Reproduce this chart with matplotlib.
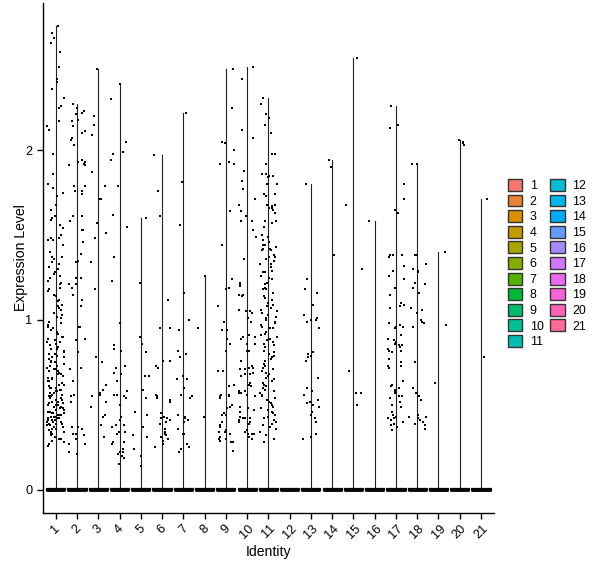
import numpy as np
import matplotlib
matplotlib.use("Agg")
import matplotlib.pyplot as plt
from matplotlib.patches import Rectangle, Patch

plt.rcParams['font.family'] = ['Liberation Sans', 'DejaVu Sans']

# ---------------- data (non-zero expression values per identity) ----------------
identities = [str(i) for i in range(1, 22)]

c1 = [2.73, 2.69, 2.66, 2.63, 2.58, 2.49, 2.42, 2.40, 2.36, 2.31, 2.26, 2.25, 2.17, 2.14, 2.12,
      1.98, 1.86, 1.80, 1.78, 1.75, 1.73, 1.68, 1.65, 1.61, 1.60, 1.59, 1.56, 1.54, 1.50, 1.48,
      1.48, 1.47, 1.47, 1.44, 1.40, 1.37, 1.37,
      1.36, 1.34, 1.33, 1.31, 1.30, 1.28, 1.27, 1.26, 1.25, 1.23, 1.22, 1.21, 1.19, 1.18,
      1.17, 1.15, 1.14, 1.12, 1.11, 1.09, 1.08, 1.07, 1.06, 1.04, 1.03, 1.02, 1.01, 0.99,
      0.98, 0.97, 0.96, 0.95, 0.94, 0.93, 0.92, 0.90, 0.90, 0.89, 0.88, 0.87, 0.87, 0.86,
      0.85, 0.84, 0.83, 0.83, 0.82, 0.81, 0.80, 0.80, 0.79, 0.78, 0.78, 0.77, 0.76, 0.75,
      0.75, 0.74, 0.73, 0.73, 0.72, 0.71, 0.71, 0.70, 0.70, 0.69, 0.68, 0.68, 0.67, 0.66,
      0.66, 0.65, 0.64, 0.64, 0.63, 0.62, 0.62, 0.61, 0.60, 0.60, 0.60, 0.59, 0.59, 0.58,
      0.58, 0.57, 0.57, 0.56, 0.56, 0.55, 0.55, 0.54, 0.54, 0.53, 0.53, 0.52, 0.52, 0.51,
      0.51, 0.50, 0.50, 0.50, 0.49, 0.49, 0.48, 0.48, 0.47, 0.47, 0.46, 0.46, 0.45, 0.45,
      0.45, 0.44, 0.44, 0.44, 0.43, 0.43, 0.43, 0.42, 0.42, 0.42, 0.41, 0.41, 0.41, 0.40,
      0.40, 0.40, 0.39, 0.39, 0.39, 0.38, 0.38, 0.37, 0.37, 0.36, 0.36, 0.35, 0.34, 0.34,
      0.33, 0.33, 0.32, 0.31, 0.30, 0.30, 0.29, 0.28, 0.27, 0.26]
c2 = [2.27, 2.25, 2.23, 2.22, 2.21, 2.18, 2.17, 2.14, 2.11, 2.10, 2.07, 2.06, 2.03, 1.94, 1.93,
      1.93, 1.92, 1.91, 1.91, 1.79, 1.79, 1.76, 1.76, 1.76, 1.74, 1.61, 1.61, 1.58, 1.53, 1.53,
      1.46, 1.39, 1.35, 1.34, 1.25, 1.25, 1.21, 1.21, 1.19, 1.15, 1.12, 1.08, 0.96, 0.96, 0.89,
      0.88, 0.81, 0.72, 0.71, 0.64, 0.56, 0.55, 0.52, 0.37, 0.37, 0.36, 0.33, 0.33, 0.32, 0.30,
      0.27, 0.27, 0.22, 0.21]
c3 = [2.48, 2.20, 2.15, 2.09, 1.87, 1.79, 1.71, 1.71, 1.57, 1.51, 1.48, 1.34, 1.18, 0.78, 0.75,
      0.62, 0.59, 0.57, 0.56, 0.55, 0.52, 0.49, 0.44, 0.43, 0.38, 0.31]
c4 = [2.39, 2.30, 2.05, 1.99, 1.98, 1.94, 1.79, 1.62, 1.55, 1.37, 1.23, 0.98, 0.85, 0.83, 0.82,
      0.73, 0.72, 0.69, 0.68, 0.64, 0.58, 0.56, 0.56, 0.55, 0.54, 0.50, 0.43, 0.41, 0.38, 0.38,
      0.37, 0.34, 0.34, 0.33, 0.28, 0.28, 0.27, 0.24, 0.22, 0.22, 0.21, 0.20, 0.19, 0.15]
c5 = [1.60, 1.22, 0.90, 0.86, 0.81, 0.67, 0.67, 0.59, 0.54, 0.46, 0.44, 0.37, 0.32, 0.31, 0.24,
      0.20, 0.14]
c6 = [1.97, 1.76, 1.61, 1.12, 0.95, 0.95, 0.76, 0.76, 0.73, 0.72, 0.56, 0.55, 0.54, 0.53, 0.52,
      0.45, 0.43, 0.42, 0.42, 0.41, 0.40, 0.39, 0.36, 0.34, 0.33, 0.32, 0.31, 0.30, 0.29, 0.27,
      0.25]
c7 = [2.22, 1.81, 1.56, 1.16, 1.00, 0.94, 0.82, 0.80, 0.78, 0.67, 0.65, 0.65, 0.60, 0.56, 0.55,
      0.54, 0.44, 0.43, 0.42, 0.41, 0.40, 0.36, 0.33, 0.33, 0.27, 0.25, 0.24, 0.22]
c8 = [1.26, 0.95, 0.43]
c9 = [2.48, 2.25, 2.05, 2.04, 2.00, 1.93, 1.92, 1.92, 1.64, 1.44, 1.24, 1.19, 1.18, 1.08, 0.99,
      0.94, 0.94, 0.89, 0.86, 0.82, 0.70, 0.70, 0.62, 0.61, 0.56, 0.56, 0.55, 0.55, 0.54, 0.50,
      0.49, 0.48, 0.45, 0.44, 0.44, 0.40, 0.38, 0.37, 0.35, 0.34, 0.34, 0.33, 0.31, 0.31, 0.30,
      0.30, 0.29, 0.28, 0.28, 0.23]
c10 = [2.49, 2.42, 2.12, 2.07, 1.88, 1.82, 1.77, 1.71, 1.68, 1.64, 1.61, 1.58, 1.58, 1.53, 1.49,
       1.36, 1.22, 1.21, 1.20, 1.15, 1.15, 1.14, 1.06, 1.05, 1.05, 1.04, 1.01, 0.99, 0.91, 0.90,
       0.90, 0.89, 0.86, 0.86, 0.82, 0.82, 0.76, 0.73, 0.72, 0.72, 0.71, 0.71, 0.69, 0.68, 0.68,
       0.67, 0.63, 0.62, 0.61, 0.58, 0.58, 0.57, 0.57, 0.57, 0.56, 0.55, 0.49, 0.48, 0.47, 0.46,
       0.43, 0.42, 0.42, 0.42, 0.42, 0.41, 0.40, 0.40, 0.39, 0.35, 0.34, 0.33, 0.33, 0.33, 0.31,
       0.30]
c11 = [2.31, 2.27, 2.21, 2.19, 2.15, 2.10, 1.98, 1.98, 1.92, 1.86, 1.86, 1.85, 1.85, 1.84, 1.80,
       1.80, 1.74, 1.74, 1.73, 1.68, 1.68, 1.67, 1.66, 1.66, 1.65, 1.63, 1.58, 1.58, 1.58, 1.57,
       1.55, 1.50, 1.49, 1.47, 1.46, 1.44, 1.44, 1.44, 1.43, 1.42, 1.42, 1.41, 1.41, 1.38, 1.37,
       1.37, 1.36, 1.35, 1.33, 1.33, 1.31, 1.29, 1.28, 1.28, 1.26, 1.25, 1.24, 1.22, 1.21, 1.19,
       1.18, 1.18, 1.16, 1.14, 1.13, 1.12, 1.10, 1.09, 1.08, 1.07, 1.06, 1.05, 1.04, 1.03, 1.02,
       1.01, 1.00, 0.99, 0.98, 0.97, 0.96, 0.95, 0.95, 0.93, 0.92, 0.91, 0.90, 0.89, 0.88, 0.87,
       0.86, 0.85, 0.84, 0.82, 0.81, 0.80, 0.79, 0.78, 0.77, 0.76, 0.74, 0.73, 0.72, 0.71, 0.70,
       0.69, 0.68, 0.67, 0.66, 0.65, 0.64, 0.63, 0.62, 0.61, 0.60, 0.59, 0.58, 0.57, 0.56, 0.55,
       0.54, 0.53, 0.52, 0.51, 0.50, 0.49, 0.48, 0.47, 0.46, 0.45, 0.44, 0.43, 0.42, 0.41, 0.40,
       0.39, 0.38, 0.37, 0.36, 0.34, 0.32, 0.30, 0.28]
c12 = []
c13 = [1.80, 1.24, 1.18, 1.16, 1.09, 1.03, 1.01, 1.00, 1.00, 0.99, 0.95, 0.81, 0.80, 0.79, 0.78,
       0.76, 0.66, 0.60, 0.58, 0.56, 0.53, 0.52, 0.51, 0.50, 0.49, 0.46, 0.44, 0.42, 0.40, 0.33,
       0.31, 0.30]
c14 = [1.94, 1.90, 1.38]
c15 = [2.54, 1.68, 1.30, 0.70, 0.57, 0.57, 0.50]
c16 = [1.58]
c17 = [2.26, 2.15, 2.13, 1.80, 1.71, 1.65, 1.63, 1.38, 1.38, 1.38, 1.37, 1.32, 1.29, 1.26, 1.24,
       1.19, 1.15, 1.10, 1.09, 1.08, 1.07, 0.98, 0.97, 0.96, 0.96, 0.95, 0.91, 0.89, 0.88, 0.87,
       0.86, 0.85, 0.85, 0.84, 0.83, 0.82, 0.82, 0.81, 0.77, 0.75, 0.73, 0.73, 0.72, 0.64, 0.62,
       0.61, 0.60, 0.59, 0.58, 0.57, 0.55, 0.55, 0.54, 0.52, 0.50, 0.49, 0.46, 0.44, 0.43, 0.42,
       0.42, 0.41, 0.40, 0.39, 0.38, 0.37, 0.35]
c18 = [1.92, 1.92, 1.38, 1.38, 1.33, 1.30, 1.29, 1.28, 1.22, 1.21, 1.19, 1.16, 1.07, 1.06, 1.04,
       1.00, 0.99, 0.98, 0.96, 0.75, 0.60, 0.57, 0.55, 0.53, 0.44, 0.43, 0.43, 0.42, 0.41, 0.40,
       0.39, 0.38, 0.36]
c19 = [1.40, 0.97, 0.63]
c20 = [2.06, 2.05, 2.04, 2.03]
c21 = [1.71, 0.78]

values = [c1, c2, c3, c4, c5, c6, c7, c8, c9, c10, c11, c12, c13, c14, c15, c16, c17, c18, c19, c20, c21]


# ---------------- ggplot hue palette ----------------
def hcl_to_hex(h, c=100.0, l=65.0):
    hr = np.deg2rad(h)
    u, v = c * np.cos(hr), c * np.sin(hr)
    Xn, Yn, Zn = 95.047, 100.0, 108.883
    Y = Yn * ((l + 16) / 116) ** 3
    d = Xn + 15 * Yn + 3 * Zn
    un, vn = 4 * Xn / d, 9 * Yn / d
    up = u / (13 * l) + un
    vp = v / (13 * l) + vn
    X = Y * 9 * up / (4 * vp)
    Z = Y * (12 - 3 * up - 20 * vp) / (4 * vp)
    xyz = np.array([X, Y, Z]) / 100.0
    M = np.array([[3.2404542, -1.5371385, -0.4985314],
                  [-0.9692660, 1.8760108, 0.0415560],
                  [0.0556434, -0.2040259, 1.0572252]])
    rgb = M @ xyz
    rgb = np.where(rgb <= 0.0031308, 12.92 * rgb, 1.055 * np.power(np.clip(rgb, 0, None), 1 / 2.4) - 0.055)
    rgb = np.clip(rgb, 0, 1)
    return '#%02x%02x%02x' % tuple(int(round(x * 255)) for x in rgb)


n = len(identities)
hues = np.linspace(15, 375, n + 1)[:n]
colors = [hcl_to_hex(h) for h in hues]


def _ihash(x):
    x &= 0xffffffff
    x = (((x >> 16) ^ x) * 0x45d9f3b) & 0xffffffff
    x = (((x >> 16) ^ x) * 0x45d9f3b) & 0xffffffff
    x = (x >> 16) ^ x
    return x


def jitter(count, seed):
    # deterministic integer-hash horizontal jitter in [-0.4, 0.4] (position only, not data)
    return np.array([(_ihash(seed * 100003 + k * 7919 + 17) / 4294967296.0 - 0.5) * 0.8
                     for k in range(count)])


# ---------------- figure ----------------
fig = plt.figure(figsize=(6.0, 5.68), dpi=100)
ax = fig.add_axes([43 / 600, 1 - 513 / 568, (493.75 - 43) / 600, (513 - 3) / 568])

gmax = max(max(v) for v in values if v)
pad = 0.05 * gmax
ax.set_ylim(-pad, gmax + pad)
ax.set_xlim(0.4, n + 0.6)

for i, (vals, col) in enumerate(zip(values, colors)):
    xc = i + 1
    # violin: wide base at zero, thin spike to max
    ax.add_patch(Rectangle((xc - 0.45, 0), 0.9, 0.012, facecolor=col, edgecolor='black',
                           linewidth=0.9, zorder=2))
    ax.plot([xc - 0.45, xc + 0.45], [0, 0], color='black', linewidth=2.0, zorder=3,
            solid_capstyle='butt')
    if vals:
        ax.plot([xc, xc], [0, max(vals)], color='#222222', linewidth=0.8, zorder=2)
        offs = jitter(len(vals), i + 1)
        ax.scatter(xc + offs, vals, s=2.6, marker='s', color='black', linewidths=0, zorder=4)

for side in ['top', 'right']:
    ax.spines[side].set_visible(False)
for side in ['left', 'bottom']:
    ax.spines[side].set_linewidth(1.0)
    ax.spines[side].set_color('black')

ax.set_yticks([0, 1, 2])
ax.set_yticklabels(['0', '1', '2'])
ax.set_xticks(range(1, n + 1))
ax.set_xticklabels(identities, rotation=45, ha='center', va='top')
ax.tick_params(axis='both', length=4, width=1.0, color='black', labelsize=9.2, labelcolor='black')
ax.tick_params(axis='x', pad=3)
ax.set_xlabel('Identity', fontsize=10.1, labelpad=3)
ax.set_ylabel('Expression Level', fontsize=10.1, labelpad=-2)

handles = [Patch(facecolor=c, edgecolor='#333333', linewidth=1.0, label=lab)
           for c, lab in zip(colors, identities)]
fig.legend(handles=handles, loc='upper left', bbox_to_anchor=(508 / 600, 1 - 179 / 568),
           ncol=2, frameon=False, fontsize=8.9, handlelength=1.15, handleheight=1.1,
           labelspacing=0.2, handletextpad=0.6, columnspacing=0.55, borderaxespad=0,
           borderpad=0)

fig.savefig('out.png', dpi=100)
